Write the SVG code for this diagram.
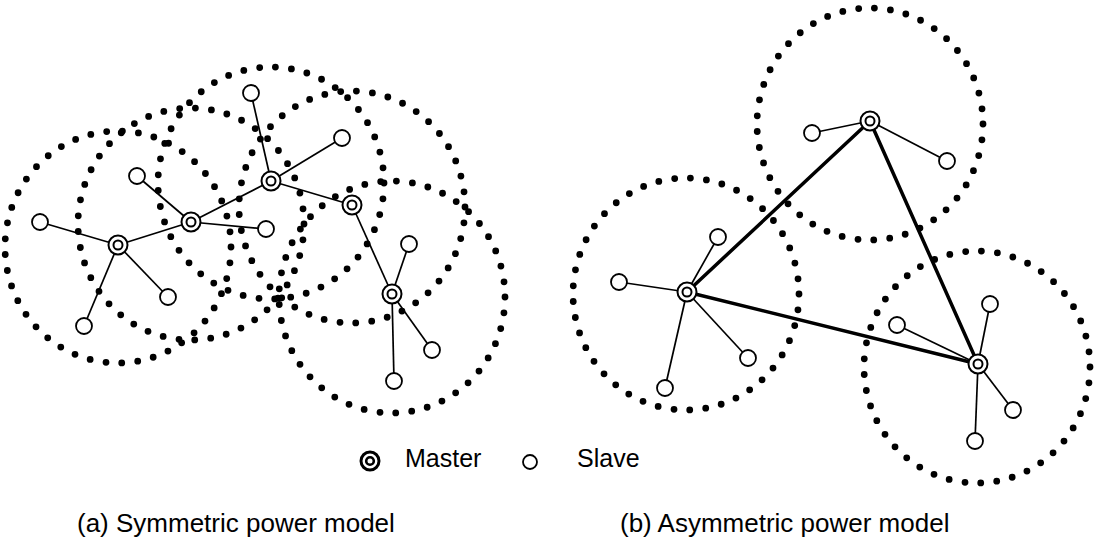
<svg xmlns="http://www.w3.org/2000/svg" width="1100" height="539" viewBox="0 0 1100 539">
<style>
.range{fill:none;stroke:#000;stroke-width:6.8;stroke-linecap:round;stroke-dasharray:0 15.987}
.thin{stroke:#000;stroke-width:1.7;fill:none}
.thick{stroke:#000;stroke-width:3.5;fill:none;stroke-linecap:round}
.slave{fill:#fff;stroke:#000;stroke-width:1.8}
.mo{fill:#fff;stroke:#000;stroke-width:2}
.mi{fill:#fff;stroke:#000;stroke-width:2}
text{font-family:"Liberation Sans",Arial,sans-serif;fill:#000}
</style>
<defs>
<g id="master"><circle class="mo" r="9.5"/><circle class="mi" r="4.5"/></g>
<g id="sl"><circle class="slave" r="8"/></g>
</defs>
<rect width="1100" height="539" fill="#fff"/>
<g id="ranges">
<ellipse class="range" cx="118" cy="247" rx="113" ry="116"/>
<ellipse class="range" cx="191" cy="224" rx="113" ry="116"/>
<ellipse class="range" cx="271" cy="183" rx="113" ry="116"/>
<ellipse class="range" cx="352" cy="207" rx="113" ry="116"/>
<ellipse class="range" cx="392" cy="297" rx="113" ry="116"/>
<ellipse class="range" cx="686" cy="294" rx="113" ry="116"/>
<ellipse class="range" cx="870" cy="124" rx="113" ry="116"/>
<ellipse class="range" cx="977" cy="367" rx="113" ry="116"/>
</g>
<g id="connectors">
<line class="thin" x1="118" y1="245" x2="191" y2="222"/>
<line class="thin" x1="191" y1="222" x2="271" y2="181"/>
<line class="thin" x1="271" y1="181" x2="352" y2="205"/>
<line class="thin" x1="352" y1="205" x2="392" y2="294"/>
<line class="thin" x1="118" y1="245" x2="40" y2="222"/>
<line class="thin" x1="118" y1="245" x2="84" y2="326"/>
<line class="thin" x1="118" y1="245" x2="168" y2="297"/>
<line class="thin" x1="191" y1="222" x2="137" y2="176"/>
<line class="thin" x1="191" y1="222" x2="266" y2="229"/>
<line class="thin" x1="271" y1="181" x2="251" y2="93"/>
<line class="thin" x1="271" y1="181" x2="342" y2="138"/>
<line class="thin" x1="392" y1="294" x2="409" y2="244"/>
<line class="thin" x1="392" y1="294" x2="432" y2="350"/>
<line class="thin" x1="392" y1="294" x2="394" y2="381"/>
<line class="thick" x1="687" y1="292" x2="870" y2="121"/>
<line class="thick" x1="870" y1="121" x2="978" y2="364"/>
<line class="thick" x1="687" y1="292" x2="978" y2="364"/>
<line class="thin" x1="687" y1="292" x2="619" y2="282"/>
<line class="thin" x1="687" y1="292" x2="718" y2="237"/>
<line class="thin" x1="687" y1="292" x2="748" y2="358"/>
<line class="thin" x1="687" y1="292" x2="665" y2="388"/>
<line class="thin" x1="870" y1="121" x2="812" y2="133"/>
<line class="thin" x1="870" y1="121" x2="947" y2="161"/>
<line class="thin" x1="978" y1="364" x2="897" y2="325"/>
<line class="thin" x1="978" y1="364" x2="990" y2="304"/>
<line class="thin" x1="978" y1="364" x2="1013" y2="410"/>
<line class="thin" x1="978" y1="364" x2="975" y2="441"/>
</g>
<g id="slaves">
<use href="#sl" x="40" y="222"/>
<use href="#sl" x="84" y="326"/>
<use href="#sl" x="168" y="297"/>
<use href="#sl" x="137" y="176"/>
<use href="#sl" x="266" y="229"/>
<use href="#sl" x="251" y="93"/>
<use href="#sl" x="342" y="138"/>
<use href="#sl" x="409" y="244"/>
<use href="#sl" x="432" y="350"/>
<use href="#sl" x="394" y="381"/>
<use href="#sl" x="619" y="282"/>
<use href="#sl" x="718" y="237"/>
<use href="#sl" x="748" y="358"/>
<use href="#sl" x="665" y="388"/>
<use href="#sl" x="812" y="133"/>
<use href="#sl" x="947" y="161"/>
<use href="#sl" x="897" y="325"/>
<use href="#sl" x="990" y="304"/>
<use href="#sl" x="1013" y="410"/>
<use href="#sl" x="975" y="441"/>
</g>
<g id="m1"><use href="#master" x="118" y="245"/></g>
<g id="m2"><use href="#master" x="191" y="222"/></g>
<g id="m3"><use href="#master" x="271" y="181"/></g>
<g id="m4"><use href="#master" x="352" y="205"/></g>
<g id="m5"><use href="#master" x="392" y="294"/></g>
<g id="mA"><use href="#master" x="687" y="292"/></g>
<g id="mB"><use href="#master" x="870" y="121"/></g>
<g id="mC"><use href="#master" x="978" y="364"/></g>
<g id="legend">
<circle cx="370" cy="461" r="9" fill="#fff" stroke="#000" stroke-width="3"/>
<circle cx="370" cy="461" r="3.8" fill="#fff" stroke="#000" stroke-width="2.6"/>
<text x="405" y="467" font-size="25">Master</text>
<circle cx="530" cy="462" r="7" fill="#fff" stroke="#000" stroke-width="1.8"/>
<text x="577" y="467" font-size="25">Slave</text>
</g>
<g id="captions">
<text x="77" y="532" font-size="26">(a) Symmetric power model</text>
<text x="620" y="532" font-size="26">(b) Asymmetric power model</text>
</g>
</svg>
